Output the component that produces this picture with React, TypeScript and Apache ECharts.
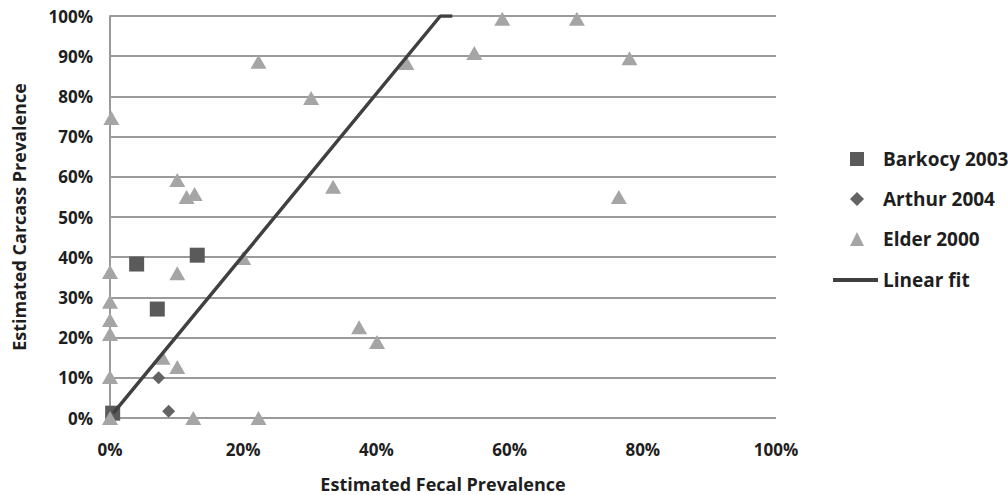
import React, { useEffect, useRef } from "react";
import * as echarts from "echarts";

const seriesNames = ["Barkocy 2003", "Arthur 2004", "Elder 2000", "Linear fit"];

const barkocyX = [0.004, 0.04, 0.071, 0.131];
const barkocyY = [0.012, 0.383, 0.271, 0.405];

const arthurX = [0.073, 0.088];
const arthurY = [0.1, 0.017];

const elderX = [
  0.002, 0.223, 0.302, 0.445, 0.335, 0.101, 0.115, 0.127, 0.0, 0.0, 0.0, 0.0,
  0.0, 0.0, 0.101, 0.2, 0.079, 0.101, 0.125, 0.223, 0.374, 0.401, 0.589, 0.701,
  0.547, 0.78, 0.764,
];
const elderY = [
  0.746, 0.886, 0.796, 0.883, 0.575, 0.592, 0.55, 0.557, 0.363, 0.289, 0.244,
  0.209, 0.102, 0.0, 0.36, 0.398, 0.15, 0.127, 0.0, 0.0, 0.226, 0.189, 0.993,
  0.993, 0.908, 0.895, 0.55,
];

const fitX = [0.005, 0.496, 0.514];
const fitY = [0.012, 1.0, 1.0];

const FONT = "Open Sans";
const TEXT = "#1e1e1e";

const pairs = (xs: number[], ys: number[]) => xs.map((x, i) => [x, ys[i]]);

export default function App() {
  const ref = useRef<HTMLDivElement>(null);
  useEffect(() => {
    document.body.style.margin = "0";
    if (!ref.current) return;
    const chart = echarts.init(ref.current, undefined, { renderer: "svg" });
    const pct = (v: number) => Math.round(v * 100) + "%";
    const legendText = {
      fontFamily: FONT,
      fontWeight: "bold",
      fontSize: 19,
      lineHeight: 20,
      color: TEXT,
    };
    chart.setOption({
      animation: false,
      backgroundColor: "#ffffff",
      grid: {
        left: 110,
        right: 232,
        top: 16,
        bottom: 77,
        containLabel: false,
        outerBoundsMode: "none",
      },
      xAxis: {
        type: "value",
        min: 0,
        max: 1,
        interval: 0.2,
        name: "Estimated Fecal Prevalence",
        nameLocation: "middle",
        nameGap: 56,
        nameTextStyle: {
          fontFamily: FONT,
          fontWeight: "bold",
          fontSize: 18,
          lineHeight: 20,
          color: TEXT,
        },
        axisLine: { show: false },
        axisTick: { show: false },
        splitLine: { show: false },
        axisLabel: {
          formatter: pct,
          margin: 23,
          fontFamily: FONT,
          fontWeight: "bold",
          fontSize: 17,
          color: TEXT,
        },
      },
      yAxis: {
        type: "value",
        min: 0,
        max: 1,
        interval: 0.1,
        name: "Estimated Carcass Prevalence",
        nameLocation: "middle",
        nameGap: 82,
        nameTextStyle: { fontFamily: FONT, fontWeight: "bold", fontSize: 18, color: TEXT },
        axisLine: { show: true, lineStyle: { color: "#9a9a9a", width: 2 } },
        axisTick: { show: false },
        splitLine: { show: true, lineStyle: { color: "#9a9a9a", width: 2 } },
        axisLabel: {
          formatter: pct,
          margin: 17,
          fontFamily: FONT,
          fontWeight: "bold",
          fontSize: 17,
          color: TEXT,
        },
      },
      legend: [
        {
          data: seriesNames.slice(0, 3),
          orient: "vertical",
          left: 850,
          top: 149,
          padding: 0,
          itemWidth: 14,
          itemHeight: 14,
          itemGap: 20,
          selectedMode: false,
          textStyle: { ...legendText, padding: [0, 0, 0, 14] },
        },
        {
          data: [{ name: seriesNames[3], icon: "rect" }],
          orient: "vertical",
          left: 833,
          top: 270,
          padding: 0,
          itemWidth: 45,
          itemHeight: 4,
          selectedMode: false,
          itemStyle: { color: "#404040" },
          textStyle: legendText,
        },
      ],
      series: [
        {
          name: seriesNames[0],
          type: "scatter",
          symbol: "rect",
          symbolSize: 15,
          itemStyle: { color: "#5a5a5a", opacity: 1 },
          data: pairs(barkocyX, barkocyY),
        },
        {
          name: seriesNames[1],
          type: "scatter",
          symbol: "diamond",
          symbolSize: 13,
          itemStyle: { color: "#636363", opacity: 1 },
          data: pairs(arthurX, arthurY),
        },
        {
          name: seriesNames[2],
          type: "scatter",
          symbol: "triangle",
          symbolSize: [16, 14],
          itemStyle: { color: "#a5a5a5", opacity: 1 },
          data: pairs(elderX, elderY),
        },
        {
          name: seriesNames[3],
          type: "line",
          symbol: "none",
          showSymbol: false,
          lineStyle: { color: "#404040", width: 3.5 },
          itemStyle: { color: "#404040" },
          data: pairs(fitX, fitY),
          z: 5,
        },
      ],
    });
    return () => chart.dispose();
  }, []);
  return <div ref={ref} style={{ width: 1008, height: 495 }} />;
}
